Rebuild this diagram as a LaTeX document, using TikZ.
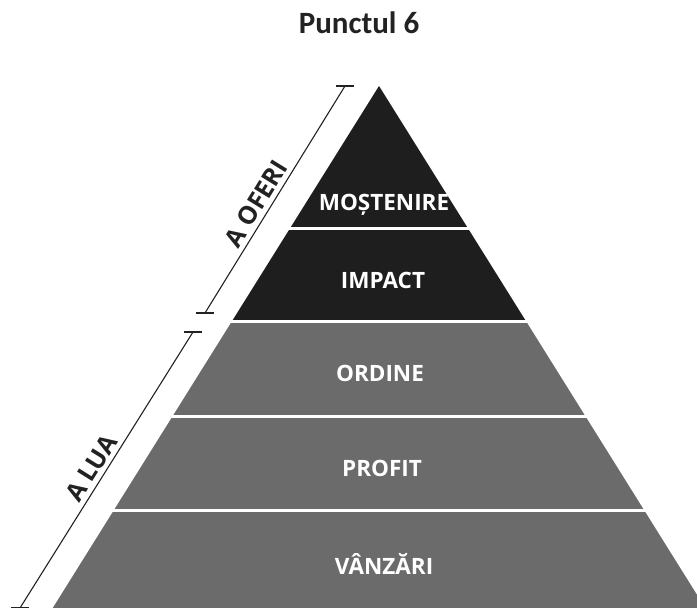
\documentclass[tikz,border=0pt]{standalone}
\usepackage{fontspec}
\setmainfont{Open Sans}
\newfontfamily\titlefont{Carlito}
\usetikzlibrary{positioning,calc}
\tikzset{>=latex}

\definecolor{topband}{HTML}{1E1E1E}
\definecolor{lowband}{HTML}{6B6B6B}
\definecolor{ink}{HTML}{222222}

\tikzset{
  tier/.style={anchor=base, text=white, font=\bfseries\fontsize{22.5}{26}\selectfont},
  side/.style={text=ink, font=\bfseries\fontsize{25}{30}\selectfont},
  bracket/.style={draw=ink, line width=1.1pt},
  gap/.style={draw=white, line width=3pt},
}

\begin{document}
\begin{tikzpicture}[x=1pt,y=-1pt]
\clip (0,0) rectangle (697,608);

\node[anchor=base, text=ink, font=\titlefont\bfseries\fontsize{31}{36}\selectfont] (title) at (359,33) {Punctul 6};

% pyramid corners
\coordinate (apex) at (379,86);
\coordinate (waist l) at (232.1,321);
\coordinate (waist r) at (525.9,321);
\coordinate (base l) at (52.75,608);
\coordinate (base r) at (705.25,608);

\fill[topband] (apex) -- (waist r) -- (waist l) -- cycle;
\fill[lowband] (waist l) -- (waist r) -- (base r) -- (base l) -- cycle;

% white cuts between the tiers
\draw[gap] (288,228) -- (470,228);
\draw[gap] (230,321.5) -- (528,321.5);
\draw[gap] (170,416) -- (588,416);
\draw[gap] (111,510) -- (647,510);

\node[tier] (mostenire) at (384,210) {MOȘTENIRE};
\node[tier] (impact) at (383,288) {IMPACT};
\node[tier] (ordine) at (380,381) {ORDINE};
\node[tier] (profit) at (382,476) {PROFIT};
\node[tier] (vanzari) at (384,574) {VÂNZĂRI};

% brackets on the left side
\coordinate (give top) at (345,86);
\coordinate (give bot) at (205,313);
\coordinate (take top) at (193,332);
\coordinate (take bot) at (20,608);

\begin{scope}
\draw[bracket] (give bot) -- node[side, sloped, above=1pt, pos=0.45] (give) {A OFERI} (give top);
\draw[bracket] ([xshift=-9]give top) -- ([xshift=9]give top);
\draw[bracket] ([xshift=-9]give bot) -- ([xshift=9]give bot);
\draw[bracket] (take bot) -- node[side, sloped, above=1pt, pos=0.48] (take) {A LUA} (take top);
\draw[bracket] ([xshift=-9]take top) -- ([xshift=9]take top);
\draw[bracket] ([xshift=-9]take bot) -- ([xshift=9]take bot);
\end{scope}
\end{tikzpicture}
\end{document}
